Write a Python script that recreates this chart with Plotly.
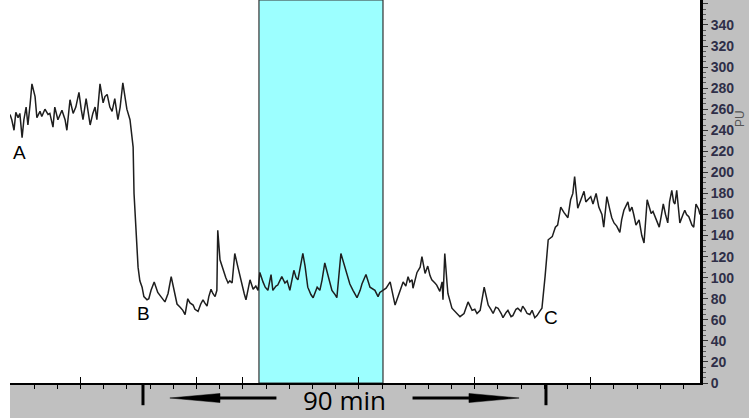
import numpy as np
import plotly.graph_objects as go

# ---- data (time in minutes, signal in PU) ----
t_baseline = [-29.7, -29.3, -28.8, -28.4, -27.9, -27.5, -27.0, -26.6, -26.1, -25.7,
              -25.2, -24.8, -24.1, -23.7, -23.0, -22.6, -21.9, -21.2, -20.8, -20.1,
              -19.7, -19.0, -18.5, -18.1, -17.4, -17.0, -16.3, -15.6, -15.0, -14.3,
              -13.8, -13.4, -12.7, -12.3, -11.8, -11.2, -10.7, -10.3, -9.6, -8.9,
              -8.5, -8.0, -7.4, -6.9, -6.3, -5.6, -5.1, -4.5, -4.0, -3.6, -2.9]
v_baseline = [255, 250, 240, 257, 252, 256, 233, 250, 262, 245,
              265, 284, 272, 252, 258, 253, 260, 255, 256, 243,
              262, 250, 255, 259, 250, 240, 269, 256, 262, 276,
              260, 250, 270, 258, 245, 256, 262, 250, 284, 266,
              272, 274, 262, 258, 270, 250, 262, 285, 270, 260, 250]

t_drop = [-2.2, -2.0, -1.6, -1.1, -0.7, -0.2, 0.2, 0.9, 1.3, 1.8,
          2.5, 2.9, 3.3, 4.0, 4.5, 4.9, 5.6, 6.3, 6.9, 7.6,
          8.3, 8.9, 9.4, 10.0, 10.5, 11.2, 11.6, 12.3, 12.9, 13.4,
          13.8, 14.3, 14.7, 15.2, 15.6, 16.1, 16.5]
v_drop = [224, 180, 142, 110, 97, 91, 82, 79, 80, 88,
          96, 90, 86, 82, 79, 77, 85, 101, 89, 75,
          72, 69, 65, 80, 76, 74, 70, 68, 75, 79,
          76, 73, 82, 89, 85, 82, 88]

t_low = [16.7, 17.2, 17.6, 18.1, 18.5, 19.0, 19.4, 19.9, 20.5, 21.2,
         21.7, 22.1, 22.6, 23.0, 23.5, 23.9, 24.6, 25.2, 25.7, 26.1,
         26.8, 27.3, 27.9, 28.6, 29.0, 29.7, 30.1, 31.0, 31.7, 32.2,
         32.8, 33.7, 34.2, 34.6, 35.7, 36.2, 36.8, 37.5, 38.0, 38.9,
         39.5, 40.0, 40.6, 41.3, 42.2, 42.9, 43.3, 44.2, 44.7, 45.1,
         46.2, 46.9, 47.8, 48.5, 48.9, 49.8, 50.2, 50.7, 51.8, 52.5,
         52.9, 53.6, 54.3, 55.2, 55.8, 56.3, 57.2, 57.6, 58.1, 58.7,
         59.2, 59.6, 60.1, 60.3, 61.2, 61.9, 62.3, 63.0, 63.6, 64.1,
         64.5, 65.2, 65.6, 66.3, 66.8, 67.0, 67.4, 67.9]
v_low = [145, 117, 112, 104, 100, 95, 97, 95, 123, 110,
         101, 91, 85, 79, 90, 98, 89, 92, 88, 105,
         96, 91, 88, 103, 88, 92, 93, 101, 95, 97,
         88, 107, 100, 98, 123, 111, 91, 84, 81, 91,
         88, 98, 114, 103, 88, 84, 81, 123, 116, 108,
         94, 88, 81, 88, 94, 103, 97, 91, 88, 82,
         86, 88, 90, 96, 84, 74, 85, 90, 96, 92,
         101, 96, 98, 90, 105, 110, 120, 104, 111, 102,
         98, 95, 93, 87, 96, 79, 123, 95]

t_lower = [68.1, 69.0, 69.9, 70.8, 71.7, 72.6, 73.5, 74.1, 74.6, 75.3,
           76.2, 76.6, 77.1, 77.7, 78.2, 78.8, 79.3, 80.0, 80.4, 81.1,
           81.5, 82.2, 82.6, 83.3, 83.7, 84.4, 84.8, 85.3, 85.8, 86.4,
           86.9, 87.5, 88.0, 88.6, 89.1]
v_lower = [85, 71, 67, 63, 66, 77, 69, 70, 66, 69,
           91, 82, 74, 70, 66, 72, 71, 66, 62, 67,
           69, 63, 64, 70, 71, 68, 73, 70, 66, 65,
           69, 62, 64, 68, 71]

t_recovery = [89.8, 90.5, 91.4, 92.1, 92.6, 93.3, 94.0, 94.9, 95.5, 96.0,
              96.4, 97.1, 97.8, 98.5, 98.9, 99.4, 100.0, 100.5, 101.2, 101.8,
              102.5, 102.9, 103.6, 104.3, 104.7, 105.2, 105.8, 106.5, 106.9, 107.4,
              107.8, 108.3, 108.7, 109.2, 109.6, 110.1, 110.8, 111.4, 111.9, 112.6,
              113.0, 113.5, 113.9, 114.4, 114.9, 115.3, 115.8, 116.2, 116.7, 117.2,
              117.6, 118.1, 118.5, 118.8, 119.2, 119.7, 119.9, 120.6, 121.0, 121.4,
              121.9, 122.6, 123.0, 123.5, 123.9, 124.1, 124.4]
v_recovery = [101, 136, 139, 148, 150, 167, 162, 157, 174, 180,
              196, 166, 174, 182, 172, 174, 177, 170, 180, 167,
              160, 148, 177, 164, 157, 152, 149, 143, 155, 164,
              168, 172, 163, 167, 160, 150, 155, 140, 133, 174,
              168, 161, 163, 158, 152, 148, 160, 170, 160, 152,
              172, 183, 172, 170, 183, 162, 152, 160, 164, 160,
              158, 150, 148, 170, 167, 165, 160]

time_min = t_baseline + t_drop + t_low + t_lower + t_recovery
signal_pu = v_baseline + v_drop + v_low + v_lower + v_recovery

# treatment window (minutes) and 90-min scale bar
band_start, band_end = 25.9, 53.6
bar_start, bar_minutes = 0, 90

# point labels
label_text = ["A", "B", "C"]
label_t = [-27.5, 0.2, 91.1]
label_v = [219, 66, 62]

# axis ticks
y_tick_step = 20
x_tick_first, x_tick_step, x_tick_count = -29.5, 5.18, 30
tall_tick_index = [3, 8, 10, 15, 20, 25]

x_range = [-29.7, 124.4]
y_range = [0, 363.7]

GRAY = "#C0C0C0"

fig = go.Figure()
fig.add_trace(go.Scatter(x=time_min, y=signal_pu, mode="lines",
                         line=dict(color="#1e1e1e", width=1.5),
                         hoverinfo="skip", showlegend=False))

shapes = []
# white strip on left edge
shapes.append(dict(type="rect", xref="paper", yref="paper",
                   x0=-0.02, x1=0, y0=-0.2, y1=1,
                   fillcolor="white", line=dict(width=0), layer="below"))
# cyan band
shapes.append(dict(type="rect", xref="x", yref="paper",
                   x0=band_start, x1=band_end, y0=0, y1=1,
                   fillcolor="#9CFFFF", line=dict(color="#333333", width=1.2),
                   layer="below"))
# scale bar ticks
for tx in [bar_start, bar_start + bar_minutes]:
    shapes.append(dict(type="line", xref="x", yref="paper",
                       x0=tx, x1=tx, y0=0, y1=-0.058,
                       line=dict(color="black", width=3)))

# arrows
mid = bar_start + bar_minutes / 2
ay = -0.0392
hh = 0.0118
for sgn in (-1, 1):
    tail = mid + sgn * 15.2
    tip = mid + sgn * 39.0
    base = tip - sgn * 11.2
    shapes.append(dict(type="line", xref="x", yref="paper",
                       x0=tail, x1=base, y0=ay, y1=ay,
                       line=dict(color="black", width=3)))
    shapes.append(dict(type="path", xref="x", yref="paper",
                       path=f"M {tip} {ay} L {base} {ay + hh} L {base} {ay - hh} Z",
                       fillcolor="black", line=dict(color="black", width=0.5)))

annotations = []
annotations.append(dict(x=mid, y=-0.0445, xref="x", yref="paper",
                        text="90 min", showarrow=False,
                        font=dict(family="Open Sans", size=26, color="black"),
                        xanchor="center", yanchor="middle"))
for txt, tx, tv in zip(label_text, label_t, label_v):
    annotations.append(dict(x=tx, y=tv, xref="x", yref="y", text=txt,
                            showarrow=False,
                            font=dict(family="Liberation Sans, Arial", size=19, color="black"),
                            xanchor="center", yanchor="middle"))
annotations.append(dict(x=1.057, y=0.69, xref="paper", yref="paper", text="PU",
                        showarrow=False, textangle=-90,
                        font=dict(family="Liberation Sans, Arial", size=12, color="#555555"),
                        xanchor="center", yanchor="middle"))

major_x = [x_tick_first + x_tick_step * k for k in tall_tick_index]
minor_x = [x_tick_first + x_tick_step * k for k in range(x_tick_count)]

fig.update_layout(
    width=749, height=418, autosize=False,
    margin=dict(l=10, r=49, t=0, b=35, pad=0),
    paper_bgcolor=GRAY, plot_bgcolor="white",
    shapes=shapes, annotations=annotations,
    xaxis=dict(range=x_range, showgrid=False, zeroline=False, automargin=False,
               showline=True, linecolor="black", linewidth=2,
               tickmode="array", tickvals=major_x, ticks="inside",
               ticklen=6, tickcolor="black", tickwidth=1,
               showticklabels=False,
               minor=dict(tickmode="array", tickvals=minor_x, ticks="outside",
                          ticklen=4, tickcolor="black", tickwidth=1, showgrid=False)),
    yaxis=dict(range=y_range, side="right", showgrid=False, zeroline=False,
               automargin=False,
               showline=True, linecolor="black", linewidth=3,
               tick0=0, dtick=y_tick_step, ticks="outside", ticklen=5,
               tickcolor="#333333", tickwidth=1,
               tickfont=dict(family="Liberation Sans, Arial", size=14,
                             color="#2f2f48", weight="bold"),
               minor=dict(dtick=5, ticks="outside", ticklen=3,
                          tickcolor="#555555", tickwidth=1, showgrid=False)),
)

fig.write_html("out.html", config={"displayModeBar": False},
               post_script="document.body.style.margin='0';document.body.style.padding='0';")
